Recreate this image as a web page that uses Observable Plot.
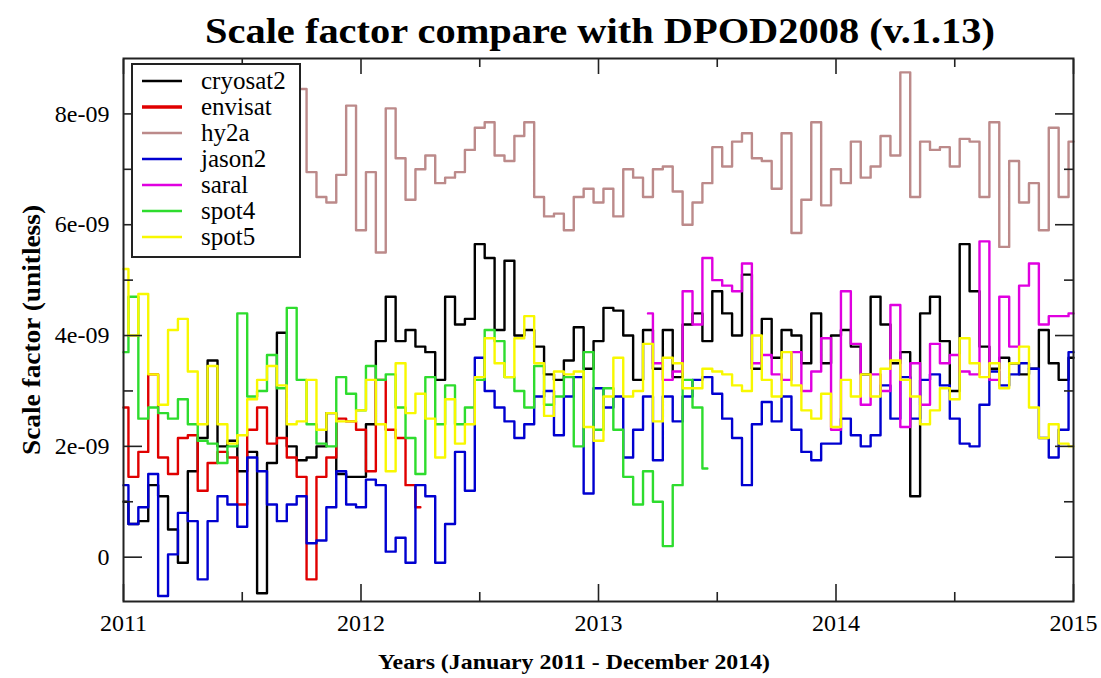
<!DOCTYPE html>
<html>
<head>
<meta charset="utf-8">
<script src="https://cdn.jsdelivr.net/npm/d3@7"></script>
<script src="https://cdn.jsdelivr.net/npm/@observablehq/plot@0.6"></script>
<style>
  body { margin: 0; background: #fff; }
  #chart svg { display: block; }
</style>
</head>
<body>
<div id="chart"></div>
<script>
// ---- data (values in units of 1e-9; samples every half month starting January 2011) ----
const startYear = 2011;
const samplesPerYear = 24;

const seriesNames  = ["cryosat2", "envisat", "hy2a", "jason2", "saral", "spot4", "spot5"];
const seriesColors = ["#000000", "#e00000", "#bc8a8a", "#0000d0", "#e000e0", "#2edc2e", "#f8f800"];
const seriesFirstSample = [0, 0, 18, 0, 53, 0, 0];

const cryosat2 = [1.0,0.6,0.65,1.3,1.1,0.5,-0.1,1.55,2.15,3.55,
  2.0,2.1,1.55,1.9,-0.65,1.7,4.05,2.0,1.75,1.8,
  2.0,2.6,1.5,1.45,1.45,2.4,3.9,4.7,3.9,4.1,
  3.8,3.7,3.2,4.7,4.2,4.3,5.65,5.4,4.1,5.35,
  4.0,4.1,3.8,3.3,3.2,3.55,4.15,3.4,3.9,4.5,
  4.45,4.0,3.2,4.1,3.4,4.1,3.25,4.2,4.4,3.9,
  4.8,4.4,4.0,5.1,3.4,4.3,3.6,4.1,4.0,3.5,
  4.4,3.5,4.0,4.1,3.8,3.3,4.7,4.2,3.5,3.7,
  1.1,4.4,4.7,3.9,3.0,5.65,4.8,3.8,3.4,3.6,
  3.5,3.3,3.4,4.1,3.5,3.2,3.6];

const envisat = [2.7,1.45,1.9,3.3,1.8,1.5,2.15,2.2,1.2,1.7,
  1.9,1.8,0.95,2.3,2.7,2.05,2.15,1.8,1.45,-0.4,
  1.45,1.8,2.5,2.45,2.3,1.55,3.2,2.3,2.15,1.3,
  0.9];

const hy2a = [8.45,6.95,6.5,6.4,6.9,8.15,5.9,6.95,5.5,8.1,
  7.2,6.45,7.0,7.25,6.75,6.85,6.95,7.35,7.75,7.85,
  7.25,7.15,7.6,7.85,6.5,6.15,6.2,5.9,6.5,6.65,
  6.4,6.65,6.15,7.0,6.85,6.5,7.0,7.05,6.6,6.0,
  6.4,6.75,7.4,7.05,7.5,7.65,7.2,7.15,6.65,7.65,
  5.85,6.45,7.85,6.35,7.0,6.75,7.5,6.85,7.05,7.6,
  7.25,8.75,6.5,7.5,7.35,7.4,7.05,7.55,7.5,6.5,
  7.85,5.6,7.15,6.4,6.75,5.9,7.75,6.5,7.5];

const jason2 = [1.3,0.6,0.9,1.5,-0.7,0.05,0.8,0.65,-0.4,0.65,
  1.1,0.95,0.55,1.8,1.55,0.95,0.65,0.95,1.1,0.25,
  0.3,0.9,1.55,0.95,0.9,1.4,1.3,0.1,0.35,-0.1,
  1.3,1.1,-0.1,0.6,1.9,1.2,3.6,3.0,2.7,2.45,
  2.15,2.4,2.9,3.0,2.2,2.9,3.25,1.15,3.05,2.7,
  2.9,1.8,2.3,2.9,1.75,2.9,2.45,2.9,3.2,3.25,
  2.95,2.5,2.15,1.3,2.4,2.8,2.45,2.9,2.3,1.9,
  1.75,2.05,2.05,2.5,2.2,2.0,2.2,3.1,2.5,3.25,
  2.5,3.2,3.3,3.1,2.5,2.05,2.0,2.75,3.35,3.1,
  3.3,3.5,3.4,2.15,1.8,2.3,3.7];

const saral = [4.4,3.5,3.2,3.35,4.8,4.2,5.4,5.0,4.9,4.8,
  5.3,3.5,3.65,3.3,3.2,3.7,3.0,3.35,3.95,2.3,
  4.8,3.85,2.75,3.3,3.0,4.55,2.35,3.5,2.75,3.85,
  3.5,3.65,3.35,3.3,5.7,3.2,4.7,3.8,4.9,5.3,
  4.2,4.35,4.35,4.4];

const spot4 = [3.7,4.7,2.5,2.7,2.6,2.5,2.85,2.4,2.1,2.05,
  1.7,2.0,4.4,2.9,3.0,3.65,3.05,4.5,3.2,2.4,
  2.05,2.0,3.25,2.95,2.65,3.45,3.2,3.3,2.7,2.15,
  1.5,3.25,2.4,3.1,2.4,2.7,3.2,4.1,3.9,3.25,
  3.0,2.7,3.45,2.75,2.9,3.25,2.0,3.7,2.3,3.05,
  2.3,1.45,0.95,1.55,1.0,0.2,1.3,3.2,2.7,1.6];

const spot5 = [5.2,4.0,4.75,3.3,2.75,4.1,4.3,3.35,2.4,3.45,
  2.4,2.05,2.2,2.85,3.2,3.45,3.1,2.4,2.45,3.2,
  2.3,2.6,2.45,2.45,2.65,3.2,2.4,1.55,3.5,2.6,
  2.95,2.5,1.8,2.85,2.05,2.4,3.25,3.95,3.5,3.25,
  3.95,4.35,3.5,2.55,3.35,3.3,3.35,2.35,2.1,2.9,
  3.6,2.9,3.0,3.85,2.45,3.6,3.5,3.05,3.05,3.4,
  3.35,3.3,3.1,3.0,4.0,3.2,2.9,3.7,3.1,2.65,
  2.5,2.95,2.35,3.2,2.9,3.3,2.9,3.4,3.55,3.2,
  2.9,2.4,2.65,3.05,2.85,3.95,3.5,3.25,3.5,3.05,
  3.5,3.8,2.7,2.15,2.4,2.05,2.0];

const yearTicks = [2011, 2012, 2013, 2014, 2015];
const halfYearTicks = [2011.5, 2012.5, 2013.5, 2014.5];
const yMajorTicks = [0, 2, 4, 6, 8];
const yMinorTicks = [1, 3, 5, 7];
const yTickLabels = ["0", "2e-09", "4e-09", "6e-09", "8e-09"];

const titleText = "Scale factor compare with DPOD2008 (v.1.13)";
const xTitle = "Years (January 2011 - December 2014)";
const yTitle = "Scale factor (unitless)";

// ---- build table ----
const seriesValues = [cryosat2, envisat, hy2a, jason2, saral, spot4, spot5];
const rows = [];
seriesNames.forEach((name, s) => {
  seriesValues[s].forEach((v, i) => {
    rows.push({series: name, year: startYear + (seriesFirstSample[s] + i) / samplesPerYear, value: v});
  });
});

const noText = () => "";
const frameColor = "#222";
const serif = "'Liberation Serif', 'Times New Roman', serif";

const chart = Plot.plot({
  width: 1101,
  height: 678,
  marginLeft: 123,
  marginRight: 28,
  marginTop: 58,
  marginBottom: 77,
  style: {fontFamily: serif, fontSize: "24px", background: "#fff", color: "#000", overflow: "visible"},
  x: {domain: [2011, 2015]},
  y: {domain: [-0.8, 9]},
  color: {domain: seriesNames, range: seriesColors},
  marks: [
    Plot.line(rows, {x: "year", y: "value", z: "series", stroke: "series", strokeWidth: 2.4, curve: "step"}),
    Plot.frame({stroke: frameColor, strokeWidth: 2}),
    // inward ticks
    Plot.axisX(yearTicks, {anchor: "bottom", tickSize: -17, tickFormat: noText, label: null, stroke: frameColor, strokeWidth: 1.6}),
    Plot.axisX(halfYearTicks, {anchor: "bottom", tickSize: -9, tickFormat: noText, label: null, stroke: frameColor, strokeWidth: 1.6}),
    Plot.axisX(yearTicks, {anchor: "top", tickSize: -15, tickFormat: noText, label: null, stroke: frameColor, strokeWidth: 1.6}),
    Plot.axisX(halfYearTicks, {anchor: "top", tickSize: -8, tickFormat: noText, label: null, stroke: frameColor, strokeWidth: 1.6}),
    Plot.axisY(yMajorTicks, {anchor: "left", tickSize: -19, tickFormat: noText, label: null, stroke: frameColor, strokeWidth: 1.6}),
    Plot.axisY(yMinorTicks, {anchor: "left", tickSize: -10, tickFormat: noText, label: null, stroke: frameColor, strokeWidth: 1.6}),
    Plot.axisY(yMajorTicks, {anchor: "right", tickSize: -19, tickFormat: noText, label: null, stroke: frameColor, strokeWidth: 1.6}),
    Plot.axisY(yMinorTicks, {anchor: "right", tickSize: -10, tickFormat: noText, label: null, stroke: frameColor, strokeWidth: 1.6}),
    // tick labels
    Plot.axisX(yearTicks, {anchor: "bottom", tickSize: 0, tickPadding: 12, tickFormat: d => String(d), label: null}),
    Plot.axisY(yMajorTicks, {anchor: "left", tickSize: 0, tickPadding: 14, tickFormat: d => yTickLabels[yMajorTicks.indexOf(d)], label: null})
  ]
});

document.getElementById("chart").appendChild(chart);

const svg = d3.select(chart);

svg.append("text")
  .attr("x", 600).attr("y", 43)
  .attr("text-anchor", "middle")
  .attr("font-family", serif).attr("font-weight", "bold").attr("font-size", 36)
  .attr("textLength", 790).attr("lengthAdjust", "spacingAndGlyphs")
  .attr("fill", "#000")
  .text(titleText);

svg.append("text")
  .attr("transform", "translate(40,330) rotate(-90)")
  .attr("text-anchor", "middle")
  .attr("font-family", serif).attr("font-weight", "bold").attr("font-size", 25)
  .attr("textLength", 250).attr("lengthAdjust", "spacingAndGlyphs")
  .attr("fill", "#000")
  .text(yTitle);

svg.append("text")
  .attr("x", 574).attr("y", 669)
  .attr("text-anchor", "middle")
  .attr("font-family", serif).attr("font-weight", "bold").attr("font-size", 21)
  .attr("textLength", 392).attr("lengthAdjust", "spacingAndGlyphs")
  .attr("fill", "#000")
  .text(xTitle);

// legend
const lg = svg.append("g");
lg.append("rect")
  .attr("x", 132).attr("y", 64).attr("width", 168).attr("height", 193)
  .attr("fill", "#fff").attr("stroke", frameColor).attr("stroke-width", 2);
seriesNames.forEach((name, i) => {
  const cy = 81 + i * 26;
  lg.append("line")
    .attr("x1", 142).attr("x2", 182).attr("y1", cy).attr("y2", cy)
    .attr("stroke", seriesColors[i]).attr("stroke-width", name === "envisat" ? 3.5 : 2.5);
  lg.append("text")
    .attr("x", 201).attr("y", cy).attr("dy", "0.32em")
    .attr("text-anchor", "start")
    .attr("font-family", serif).attr("font-size", 25).attr("fill", "#000")
    .text(name);
});
</script>
</body>
</html>
